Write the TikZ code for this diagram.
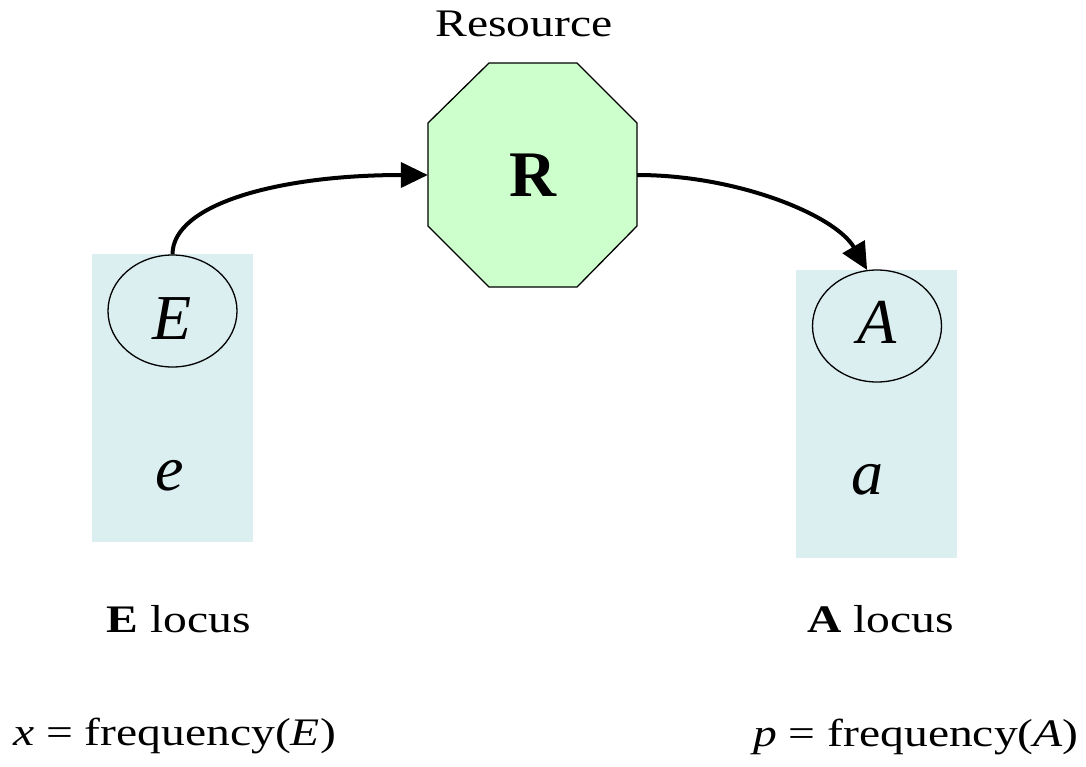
\documentclass[tikz,border=0pt]{standalone}
\usepackage{fontspec}
\setmainfont{Liberation Serif}
\newfontfamily\lbl[FakeStretch=1.22]{Liberation Serif}
\usetikzlibrary{shapes.geometric,arrows.meta}
\definecolor{locusblue}{RGB}{219,238,240}
\definecolor{resgreen}{RGB}{204,255,204}
\tikzset{
  locusbox/.style={fill=locusblue,draw=none,minimum width=161pt,minimum height=288pt,inner sep=0pt},
  allele/.style={ellipse,draw=black,line width=1.3pt,minimum width=129pt,minimum height=112pt,inner sep=0pt,
    font=\fontsize{64}{70}\selectfont\itshape,text depth=0pt},
  octfill/.style={fill=resgreen,draw=black,line width=1.3pt,line join=miter},
  resnode/.style={minimum width=209pt,minimum height=224pt,inner sep=0pt,font=\fontsize{65}{70}\selectfont\bfseries},
  smallvar/.style={font=\fontsize{64}{70}\selectfont\itshape,anchor=base,inner sep=0pt},
  label/.style={font=\lbl\fontsize{39}{44}\selectfont,inner sep=0pt},
  flow/.style={line width=4pt,-{Triangle[length=27pt,width=25pt]}}
}
\begin{document}
\begin{tikzpicture}[x=1pt,y=-1pt]
\useasboundingbox (0,0) rectangle (1086,766);

% locus backgrounds
\node[locusbox] (Ebox) at (172.5,398) {};
\node[locusbox] (Abox) at (876.5,414) {};

% resource octagon
\draw[octfill] (489,63) -- (577,63) -- (637,123) -- (637,226) -- (577,287)
  -- (489,287) -- (428,226) -- (428,123) -- cycle;
\node[resnode] (R) at (532.5,175) {R};
\node[label,anchor=base] (res) at (524,36) {Resource};

% alleles
\node[allele,text height=56pt] (E) at (172.5,311) {E};
\node[allele,text height=34pt] (A) at (877,326) {A};
\node[smallvar] (e) at (169.5,490) {e};
\node[smallvar] (a) at (867.5,494) {a};

% locus names
\node[label,anchor=base] (Eloc) at (178.5,632) {\textbf{E} locus};
\node[label,anchor=base] (Aloc) at (880.5,632) {\textbf{A} locus};

% frequencies
\node[label,anchor=base west] (xf) at (13,745) {\textit{x} = frequency(\textit{E})};
\node[label,anchor=base east] (pf) at (1079,746) {\textit{p} = frequency(\textit{A})};

% flows through the resource
\draw[flow] (E.north) .. controls +(0,-50) and +(-150,0) .. (R.west);
\draw[flow] (R.east) .. controls +(100,0) and +(-32,-55) .. (A.100);
\end{tikzpicture}
\end{document}
